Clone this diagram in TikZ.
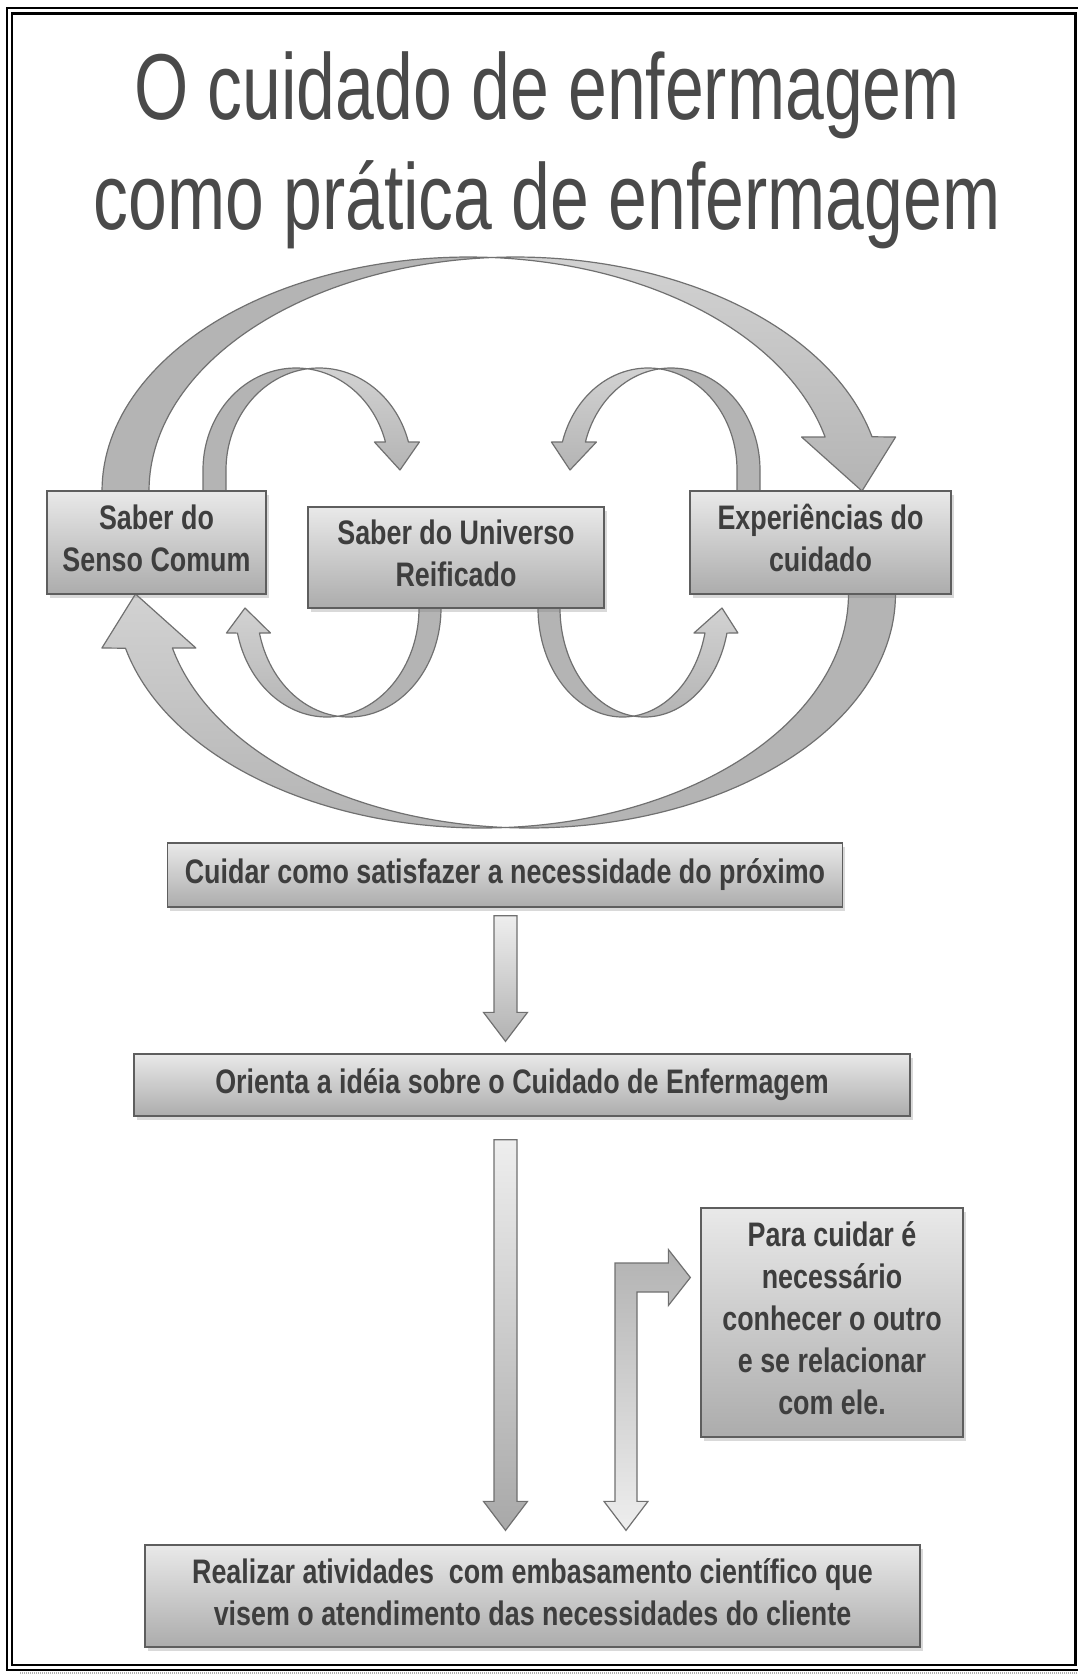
\documentclass[tikz,border=0pt]{standalone}
\usepackage{fontspec}
\usepackage{graphicx}
\newfontfamily\titlefont{Liberation Sans}
\newfontfamily\boxfont{Liberation Sans}
\usetikzlibrary{calc,shadows}
\pgfdeclarelayer{ribbons}
\pgfsetlayers{ribbons,main}

\definecolor{titlegray}{HTML}{4A4A4A}
\definecolor{boxtext}{HTML}{3E3E3E}
\definecolor{boxedge}{HTML}{5E5E5E}
\definecolor{boxtop}{HTML}{E9E9E9}
\definecolor{boxbot}{HTML}{ACACAC}
\definecolor{rbedge}{HTML}{707070}
\definecolor{rbfill}{HTML}{B4B4B4}
\definecolor{rbhi}{HTML}{D2D2D2}
\definecolor{arlight}{HTML}{EEEEEE}
\definecolor{ardark}{HTML}{B2B2B2}
\definecolor{ardarker}{HTML}{A8A8A8}

% Twisted ribbon arrow built from two equal ellipses (centres (0,0) and (#3,0)).
% #1 x radius, #2 y radius, #3 band width, #4 height of the head base above the
% centre line, #5 x of the tip, #6 wing overhang, #7 how far the tail runs below.
\newcommand\ribbon[7]{%
  \pgfmathsetmacro\rbA{-acos(#3/(2*#1))}%
  \pgfmathsetmacro\rbB{-180+acos(#3/(2*#1))}%
  \pgfmathsetmacro\rbH{-asin(#4/#2)}%
  \pgfmathsetmacro\rbX{#1*cos(\rbH)}%
  \draw[ribbonback] (-#1,#7)
    -- plot[domain=0:1,samples=60] ({#1*cos(-180+(\rbA+180)*\x)},{#2*sin(-180+(\rbA+180)*\x)})
    -- plot[domain=0:1,samples=60] ({#3+#1*cos(\rbB+(-180-(\rbB))*\x)},{#2*sin(\rbB+(-180-(\rbB))*\x)})
    -- ({#3-#1},#7) -- cycle;
  \draw[ribbonfront]
    plot[domain=0:1,samples=60] ({#3+#1*cos(\rbB+(\rbH-(\rbB))*\x)},{#2*sin(\rbB+(\rbH-(\rbB))*\x)})
    -- ({#3+\rbX+#6},-#4) -- (#5,0) -- ({\rbX-#6},-#4)
    -- plot[domain=0:1,samples=60] ({#1*cos(\rbH+(\rbA-(\rbH))*\x)},{#2*sin(\rbH+(\rbA-(\rbH))*\x)})
    -- cycle;
}

\newcommand\boxlines[1]{\scalebox{0.79}[1]{\begin{tabular}{@{}c@{}}#1\end{tabular}}}

\begin{document}
\begin{tikzpicture}[x=1pt,y=-1pt,
  box/.style={draw=boxedge, line width=1.3pt, top color=boxtop, bottom color=boxbot,
    drop shadow={shadow xshift=2.5pt, shadow yshift=-3.5pt, opacity=0.3},
    inner sep=0pt, text=boxtext, font=\boxfont\bfseries\fontsize{34}{42}\selectfont},
  ribbonback/.style={draw=rbedge, line width=1.2pt, fill=rbfill, line join=round},
  ribbonfront/.style={draw=rbedge, line width=1.2pt, top color=rbhi, bottom color=rbfill, line join=round},
  blockarrow/.style={draw=rbedge, line width=1.2pt},
  titletext/.style={anchor=base, text=titlegray, inner sep=0pt,
    font=\titlefont\fontsize{93.6}{110}\selectfont}]

\useasboundingbox (0,0) rectangle (1078,1674);

% double frame
\draw[line width=2pt] (6.5,7.5) rectangle (1090,1670);
\draw[line width=2.5pt] (12,13.5) rectangle (1075.5,1665);
\draw[gray!60, line width=2pt, dash pattern=on 1pt off 1pt] (20,1673) -- (1078,1673);

% title
\node[titletext] (t1) at (547,119) {\scalebox{0.745}[1]{O cuidado de enfermagem}};
\node[titletext] (t2) at (547,229) {\scalebox{0.745}[1]{como prática de enfermagem}};

% boxes
\node[box, minimum width=219pt, minimum height=103pt] (sc) at (156.5,542.5)
  {\boxlines{Saber do\\Senso Comum}};
\node[box, minimum width=296pt, minimum height=101pt] (reif) at (456,557.5)
  {\boxlines{Saber do Universo\\Reificado}};
\node[box, minimum width=261pt, minimum height=103pt] (exp) at (820.5,542.5)
  {\boxlines{Experiências do\\cuidado}};
\node[box, minimum width=675pt, minimum height=64pt] (cuidar) at (505,875)
  {\boxlines{Cuidar como satisfazer a necessidade do próximo}};
\node[box, minimum width=776pt, minimum height=62pt] (orienta) at (522,1085)
  {\boxlines{Orienta a idéia sobre o Cuidado de Enfermagem}};
\node[box, minimum width=262pt, minimum height=229pt] (para) at (832,1322.5)
  {\boxlines{Para cuidar é\\necessário\\conhecer o outro\\e se relacionar\\com ele.}};
\node[box, minimum width=775pt, minimum height=102pt] (real) at (532.5,1596)
  {\boxlines{Realizar atividades~ com embasamento científico que\\visem o atendimento das necessidades do cliente}};

% ring of curved arrows behind the boxes
\begin{pgfonlayer}{ribbons}
  \begin{scope}[shift={(468.5,491)}]
    \ribbon{366.5}{234}{47}{54}{393.5}{23.5}{6}
  \end{scope}
  \begin{scope}[shift={(529,594)}, rotate=180]
    \ribbon{366.5}{234}{47}{54}{393.5}{23.5}{6}
  \end{scope}
  \begin{scope}[shift={(296,470)}]
    \ribbon{93}{102}{23}{28}{104}{11}{25}
  \end{scope}
  \begin{scope}[shift={(671,470)}, xscale=-1]
    \ribbon{89}{102}{23}{28}{101}{11}{25}
  \end{scope}
  \begin{scope}[shift={(349,608)}, rotate=180]
    \ribbon{92}{109}{22}{25}{104}{11}{6}
  \end{scope}
  \begin{scope}[shift={(622.6,608)}, yscale=-1]
    \ribbon{84.6}{109}{22}{25}{99.4}{11}{6}
  \end{scope}
\end{pgfonlayer}

% straight block arrows
\coordinate (d1a) at ($(cuidar.south)+(0.5,8)$);
\coordinate (d1b) at ($(orienta.north)+(-16.5,-12)$);
\draw[blockarrow, top color=arlight, bottom color=ardark] let \p1=(d1a), \p2=(d1b) in
  ({\x1-11.5pt},\y1) -- ({\x1+11.5pt},\y1) -- ({\x1+11.5pt},{\y2+29pt})
  -- ({\x1+22pt},{\y2+29pt}) -- (\x1,\y2) -- ({\x1-22pt},{\y2+29pt})
  -- ({\x1-11.5pt},{\y2+29pt}) -- cycle;

\coordinate (d2a) at ($(orienta.south)+(-16.5,23)$);
\coordinate (d2b) at ($(real.north)+(-27,-14)$);
\draw[blockarrow, top color=arlight, bottom color=ardarker] let \p1=(d2a), \p2=(d2b) in
  ({\x1-11.5pt},\y1) -- ({\x1+11.5pt},\y1) -- ({\x1+11.5pt},{\y2+29pt})
  -- ({\x1+22pt},{\y2+29pt}) -- (\x1,\y2) -- ({\x1-22pt},{\y2+29pt})
  -- ({\x1-11.5pt},{\y2+29pt}) -- cycle;

% bent two-headed arrow between the bottom box and the side box
\coordinate (bt) at ($(real.north)+(93.5,-14)$);
\coordinate (rt) at ($(para.west)+(-10,-45)$);
\draw[blockarrow, top color=ardark, bottom color=arlight] let \p1=(bt), \p2=(rt) in
  ({\x1-11pt},{\y1+29pt}) -- ({\x1-11pt},{\y2+14.5pt}) -- ({\x2-22pt},{\y2+14.5pt})
  -- ({\x2-22pt},{\y2+28pt}) -- (\x2,\y2) -- ({\x2-22pt},{\y2-28pt})
  -- ({\x2-22pt},{\y2-14.5pt}) -- ({\x1+11pt},{\y2-14.5pt}) -- ({\x1+11pt},{\y1+29pt})
  -- ({\x1+22pt},{\y1+29pt}) -- (\x1,\y1) -- ({\x1-22pt},{\y1+29pt}) -- cycle;

\end{tikzpicture}
\end{document}
